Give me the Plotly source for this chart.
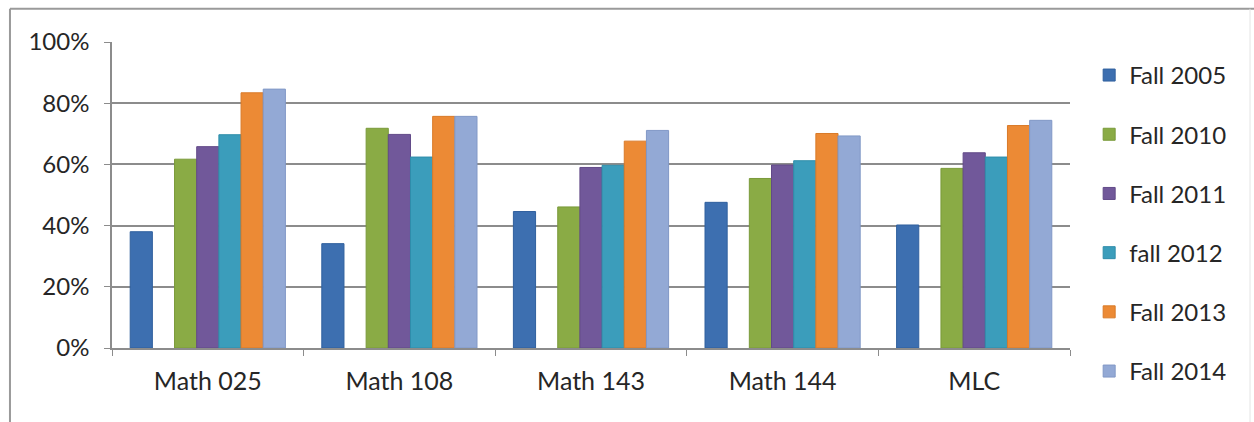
import plotly.graph_objects as go

categories = ["Math 025", "Math 108", "Math 143", "Math 144", "MLC"]
series_names = ["Fall 2005", "Fall 2010", "Fall 2011", "fall 2012", "Fall 2013", "Fall 2014"]
fall_2005 = [0.380, 0.341, 0.446, 0.476, 0.402]
fall_2010 = [0.617, 0.718, 0.461, 0.554, 0.587]
fall_2011 = [0.658, 0.698, 0.590, 0.598, 0.638]
fall_2012 = [0.697, 0.624, 0.597, 0.612, 0.624]
fall_2013 = [0.834, 0.757, 0.676, 0.701, 0.727]
fall_2014 = [0.846, 0.757, 0.711, 0.693, 0.744]
y_ticks = [0, 0.2, 0.4, 0.6, 0.8, 1.0]

colors = ["#3d6fb0", "#8aab45", "#71589a", "#3b9dbb", "#ec8a35", "#93a9d5"]
edges = ["#30609e", "#7a9a3a", "#624a88", "#2f8daa", "#d97a28", "#8198c6"]
values = [fall_2005, fall_2010, fall_2011, fall_2012, fall_2013, fall_2014]

FONT = "Lato"
TXT = "#262626"
fig = go.Figure()
for i, (name, vals) in enumerate(zip(series_names, values)):
    fig.add_trace(go.Bar(
        x=categories, y=vals, name=name, legendgroup=name,
        marker=dict(color=colors[i], line=dict(color=edges[i], width=1)),
    ))
    if i == 0:
        # empty series slot (as in the original chart)
        fig.add_trace(go.Bar(x=categories, y=[None] * len(categories),
                             name="", showlegend=False, hoverinfo="skip"))

fig.update_layout(
    width=1254, height=422,
    margin=dict(l=112, r=184, t=42, b=74),
    paper_bgcolor="white", plot_bgcolor="white",
    barmode="group", bargap=0.19, bargroupgap=0,
    font=dict(family=FONT, size=24, color=TXT),
    legend=dict(x=1.02, y=0.407, xanchor="left", yanchor="middle",
                font=dict(size=24, family=FONT, color=TXT),
                itemwidth=30, tracegroupgap=25, traceorder="grouped",
                maxheight=420,
                bgcolor="rgba(0,0,0,0)"),
    showlegend=True,
    shapes=[
        dict(type="line", xref="paper", yref="paper",
             x0=-0.1065, x1=1.1952, y0=1.1085, y1=1.1085,
             line=dict(color="#9a9a9a", width=2)),
        dict(type="line", xref="paper", yref="paper",
             x0=-0.1065, x1=-0.1065, y0=1.1085, y1=-0.25,
             line=dict(color="#9a9a9a", width=2)),
        dict(type="line", xref="paper", yref="paper",
             x0=1.1879, x1=1.1879, y0=1.1085, y1=-0.25,
             line=dict(color="#e4e4e4", width=1)),
    ],
)
fig.update_xaxes(
    type="category", showline=True, linecolor="#8c8c8c", linewidth=1.5,
    ticks="outside", tickson="boundaries", ticklen=6, tickcolor="#8c8c8c",
    tickfont=dict(size=25, family=FONT, color=TXT),
    ticklabelstandoff=10,
    showgrid=False,
)
fig.update_yaxes(
    range=[0, 1.0], tickvals=y_ticks, tickformat=".0%",
    showline=True, linecolor="#8c8c8c", linewidth=1.5,
    ticks="outside", ticklen=6, tickcolor="#8c8c8c",
    showgrid=True, gridcolor="#8c8c8c", gridwidth=1.5,
    zeroline=False, ticklabelstandoff=10,
    tickfont=dict(size=24, family=FONT, color=TXT),
)
fig.write_html("out.html", config={"displayModeBar": False},
               post_script="document.body.style.margin='0';document.body.style.overflow='hidden';")
